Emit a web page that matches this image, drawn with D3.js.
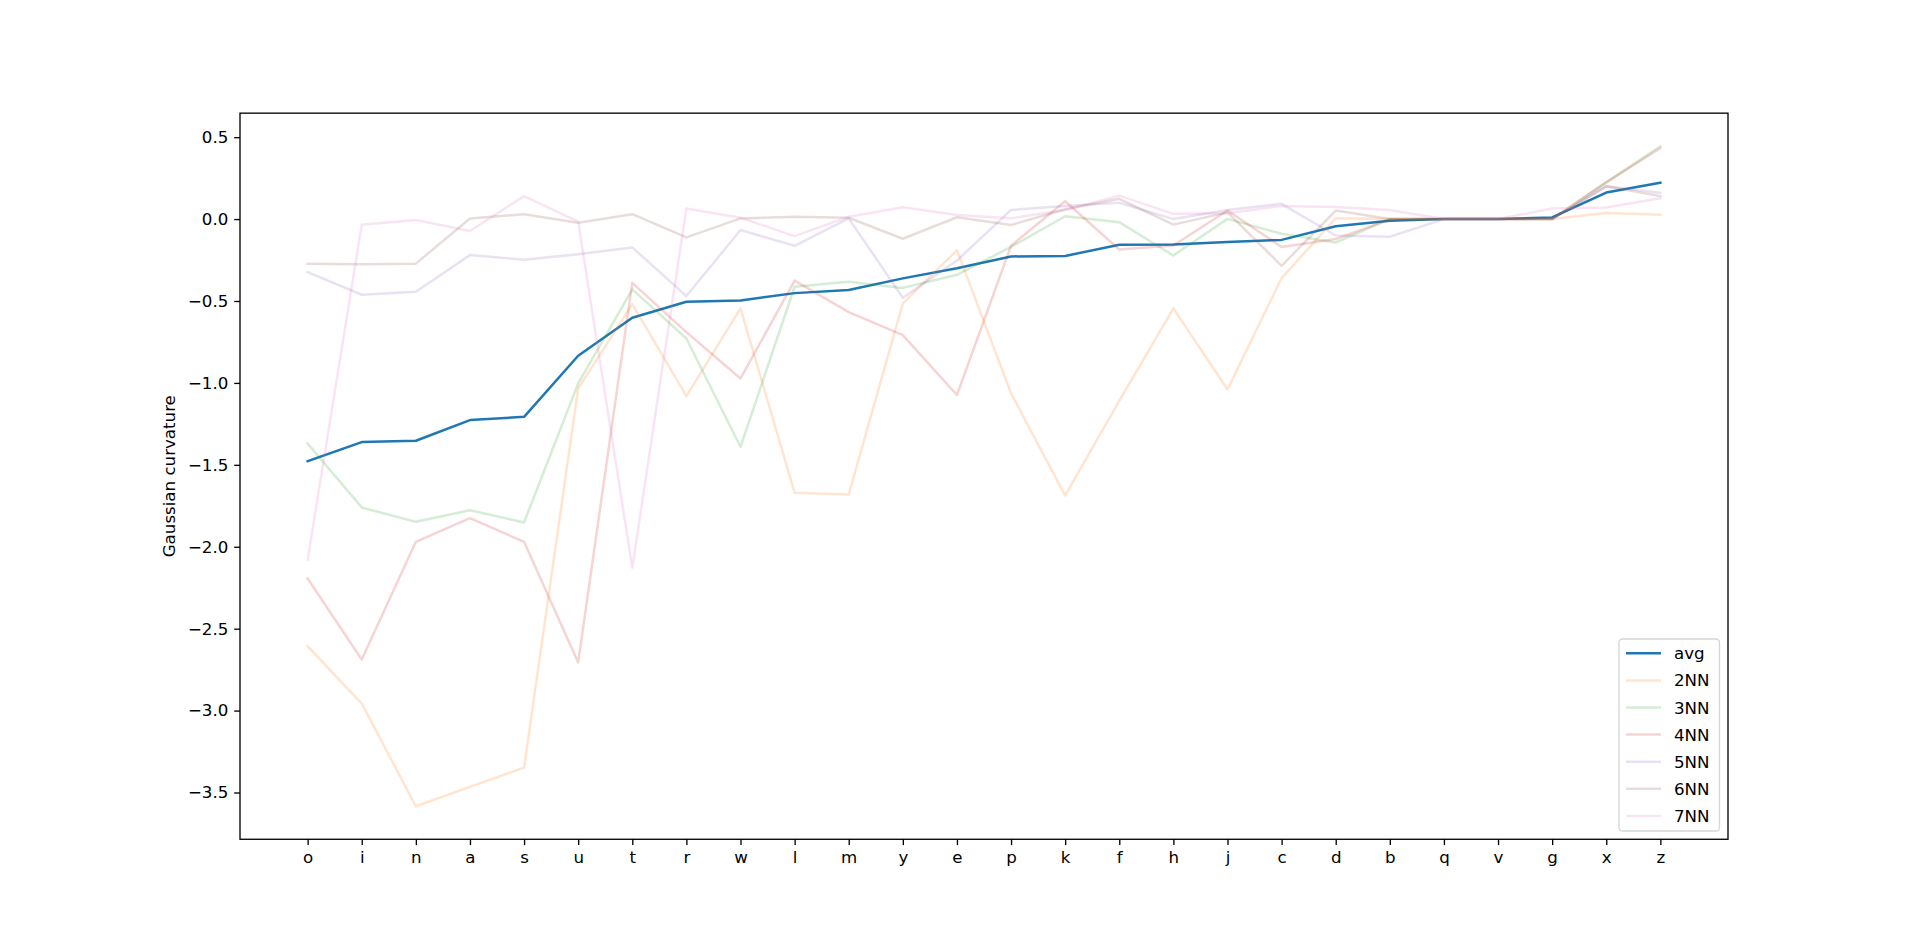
<!DOCTYPE html>
<html>
<head>
<meta charset="utf-8">
<script src="https://cdn.jsdelivr.net/npm/d3@7"></script>
<style>
  body { margin: 0; background: #fff; }
  text { font-family: "DejaVu Sans", sans-serif; }
</style>
</head>
<body>
<div class="chart_container"></div>
<script>
// letters sorted by avg curvature
const letters = ["o","i","n","a","s","u","t","r","w","l","m","y","e","p","k","f","h","j","c","d","b","q","v","g","x","z"];

const avg = [-1.477,-1.361,-1.353,-1.227,-1.207,-0.834,-0.602,-0.505,-0.497,-0.452,-0.433,-0.362,-0.300,-0.228,-0.225,-0.157,-0.155,-0.140,-0.127,-0.044,-0.010,0.000,0.000,0.010,0.162,0.222];
const nn2 = [-2.607,-2.957,-3.584,-3.466,-3.348,-1.034,-0.519,-1.081,-0.545,-1.671,-1.681,-0.515,-0.190,-1.064,-1.687,-1.110,-0.545,-1.040,-0.360,0.005,0.000,0.000,0.000,0.000,0.037,0.026];
const nn3 = [-1.370,-1.760,-1.848,-1.777,-1.852,-1.003,-0.429,-0.729,-1.390,-0.413,-0.383,-0.420,-0.340,-0.170,0.017,-0.019,-0.222,0.001,-0.090,-0.143,0.000,0.000,0.000,0.000,0.224,0.445];
const nn4 = [-2.194,-2.688,-1.970,-1.825,-1.970,-2.706,-0.389,-0.690,-0.973,-0.376,-0.568,-0.708,-1.074,-0.163,0.109,-0.186,-0.161,0.052,-0.170,-0.122,0.000,0.000,0.000,0.000,0.224,0.433];
const nn5 = [-0.324,-0.462,-0.444,-0.220,-0.248,-0.214,-0.173,-0.470,-0.067,-0.163,0.004,-0.480,-0.253,0.056,0.080,0.100,0.000,0.056,0.093,-0.100,-0.108,0.000,0.000,0.000,0.200,0.160];
const nn6 = [-0.273,-0.275,-0.272,0.004,0.030,-0.022,0.030,-0.112,0.004,0.014,0.008,-0.120,0.011,-0.036,0.060,0.124,-0.034,0.041,-0.285,0.052,0.000,0.000,0.000,0.000,0.200,0.140];
const nn7 = [-2.080,-0.035,-0.006,-0.073,0.140,-0.016,-2.129,0.065,0.008,-0.104,0.014,0.072,0.025,0.005,0.055,0.143,0.032,0.036,0.080,0.073,0.056,0.000,0.000,0.065,0.071,0.127];

const seriesNames = ["avg", "2NN", "3NN", "4NN", "5NN", "6NN", "7NN"];
const yTicks = [-3.5, -3.0, -2.5, -2.0, -1.5, -1.0, -0.5, 0.0, 0.5];

const colors = ["#1f77b4", "#ff7f0e", "#2ca02c", "#d62728", "#9467bd", "#8c564b", "#e377c2"];
const opac = [1, 0.2, 0.2, 0.2, 0.2, 0.2, 0.2];

const series = [avg, nn2, nn3, nn4, nn5, nn6, nn7].map((vals, i) => ({
  name: seriesNames[i],
  color: colors[i],
  opacity: opac[i],
  values: vals.map((v, j) => ({ key: letters[j], v }))
}));

const W = 1920, H = 943;
const plotL = 240, plotR = 1728, plotT = 113.16, plotB = 839.27;
const fs = 16.67;
const tick = 5.83;

const svg = d3.select("div.chart_container").append("svg")
  .attr("width", W).attr("height", H);

const x = d3.scalePoint()
  .domain(letters)
  .range([plotL, plotR])
  .padding(1.25);

// matplotlib style 5% margins
const allVals = series.flatMap(s => s.values.map(d => d.v));
const [lo, hi] = d3.extent(allVals);
const pad = (hi - lo) * 0.05;
const y = d3.scaleLinear()
  .domain([lo - pad, hi + pad])
  .range([plotB, plotT]);

const fmt = d3.format(".1f");

const xAxis = svg.append("g")
  .attr("transform", `translate(0,${plotB})`)
  .call(d3.axisBottom(x).tickSize(tick).tickPadding(tick).tickSizeOuter(0));

const yAxis = svg.append("g")
  .attr("transform", `translate(${plotL},0)`)
  .call(d3.axisLeft(y).tickValues(yTicks).tickFormat(fmt).tickSize(tick).tickPadding(tick).tickSizeOuter(0));

[xAxis, yAxis].forEach(g => {
  g.select(".domain").remove();
  g.selectAll(".tick line").attr("stroke", "#000").attr("stroke-width", 1.33);
  g.selectAll(".tick text")
    .attr("fill", "#000")
    .style("font-size", fs + "px")
    .style("font-family", "'DejaVu Sans', sans-serif");
});

const line = d3.line()
  .x(d => x(d.key))
  .y(d => y(d.v));

svg.append("g").selectAll("path")
  .data(series).enter().append("path")
  .attr("d", d => line(d.values))
  .attr("fill", "none")
  .attr("stroke", d => d.color)
  .attr("stroke-opacity", d => d.opacity)
  .attr("stroke-width", 2.5)
  .attr("stroke-linejoin", "round")
  .attr("stroke-linecap", "square");

// frame
svg.append("rect")
  .attr("x", plotL).attr("y", plotT)
  .attr("width", plotR - plotL).attr("height", plotB - plotT)
  .attr("fill", "none")
  .attr("stroke", "#000")
  .attr("stroke-width", 1.33);

svg.append("text")
  .attr("transform", `translate(169,${(plotT + plotB) / 2}) rotate(-90)`)
  .attr("text-anchor", "middle")
  .attr("dominant-baseline", "central")
  .style("font-size", fs + "px")
  .text("Gaussian curvature");

// legend, lower right
const lg = svg.append("g");
lg.append("rect")
  .attr("x", 1619).attr("y", 639)
  .attr("width", 100.5).attr("height", 192)
  .attr("rx", 3.5)
  .attr("fill", "#fff").attr("fill-opacity", 0.8)
  .attr("stroke", "#d6d6d6").attr("stroke-width", 1.33);

const item = lg.selectAll("g.item")
  .data(series).enter().append("g")
  .attr("transform", (d, i) => `translate(0,${653.3 + i * 27.1})`);

item.append("line")
  .attr("x1", 1626).attr("x2", 1661)
  .attr("stroke", d => d.color)
  .attr("stroke-opacity", d => d.opacity)
  .attr("stroke-width", 2.5);

item.append("text")
  .attr("x", 1674)
  .attr("dy", "0.36em")
  .style("font-size", fs + "px")
  .text(d => d.name);
</script>
</body>
</html>
